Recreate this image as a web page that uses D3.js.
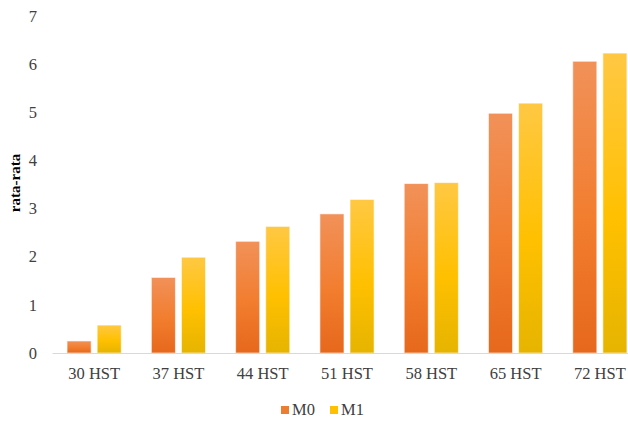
<!DOCTYPE html>
<html><head><meta charset="utf-8">
<script src="https://cdn.jsdelivr.net/npm/d3@7"></script>
<style>body{margin:0;background:#fff}svg{display:block}</style>
</head><body>
<script>
const categories = ["30 HST","37 HST","44 HST","51 HST","58 HST","65 HST","72 HST"];
const seriesNames = ["M0","M1"];
const m0 = [0.25,1.57,2.32,2.89,3.52,4.98,6.06];
const m1 = [0.58,1.99,2.63,3.19,3.54,5.19,6.23];
const yTicks = [0,1,2,3,4,5,6,7];
const yLabel = "rata-rata";

const W=628,H=424;
const font='"Liberation Serif"';
const svg=d3.select("body").append("svg").attr("width",W).attr("height",H);
const defs=svg.append("defs");
const grads=[
  {id:"g0",stops:[["0%","#f19159"],["55%","#f27d2e"],["100%","#e6681c"]]},
  {id:"g1",stops:[["0%","#ffc843"],["55%","#ffc000"],["100%","#e6b400"]]}
];
grads.forEach(g=>{
  const lg=defs.append("linearGradient").attr("id",g.id).attr("x1",0).attr("y1",0).attr("x2",0).attr("y2",1);
  g.stops.forEach(s=>lg.append("stop").attr("offset",s[0]).attr("stop-color",s[1]));
});
const legendColors=["#ed7d31","#ffc000"];

const x=d3.scaleBand().domain(categories).range([52,642]).paddingInner(0).paddingOuter(0);
const x1=d3.scaleBand().domain(seriesNames).range([0,x.bandwidth()]).paddingInner(0.2).paddingOuter(0.5);
const y=d3.scaleLinear().domain([0,7]).range([353,16]);

// y axis tick labels
const yAxis=d3.axisLeft(y).tickValues(yTicks).tickSize(0).tickPadding(0).tickFormat(d3.format("d"));
const ya=svg.append("g").attr("transform","translate(37,0)").call(yAxis);
ya.select(".domain").remove();
ya.selectAll("text").style("font-family",font).attr("font-size",16.5).attr("fill","#404040");

// bars
const data=[m0,m1];
const g=svg.append("g");
categories.forEach((c,i)=>{
  seriesNames.forEach((s,j)=>{
    const v=data[j][i];
    g.append("rect")
      .attr("x",x(c)+x1(s)).attr("width",x1.bandwidth())
      .attr("y",y(v)).attr("height",y(0)-y(v))
      .attr("fill",`url(#g${j})`)
      .attr("stroke","rgba(255,255,255,0.6)").attr("stroke-width",1);
  });
});

// x axis
const xAxis=d3.axisBottom(x).tickSize(0).tickPadding(14);
const xa=svg.append("g").attr("transform",`translate(0,${y(0)})`).call(xAxis);
xa.select(".domain").attr("stroke","#d9d9d9").attr("stroke-width",1);
xa.selectAll("text").style("font-family",font).attr("font-size",16.5).attr("fill","#404040");

// y label
svg.append("text").attr("transform",`translate(20,183) rotate(-90)`)
  .attr("text-anchor","middle").style("font-family",font).attr("font-size",15)
  .attr("font-weight","bold").attr("fill","#000").text(yLabel);

// legend
const legX=[281,330];
seriesNames.forEach((s,j)=>{
  svg.append("rect").attr("x",legX[j]).attr("y",406).attr("width",8).attr("height",8).attr("fill",legendColors[j]);
  svg.append("text").attr("x",legX[j]+11).attr("y",415).style("font-family",font).attr("font-size",16.5)
    .attr("fill","#404040").text(s);
});
</script>
</body></html>
